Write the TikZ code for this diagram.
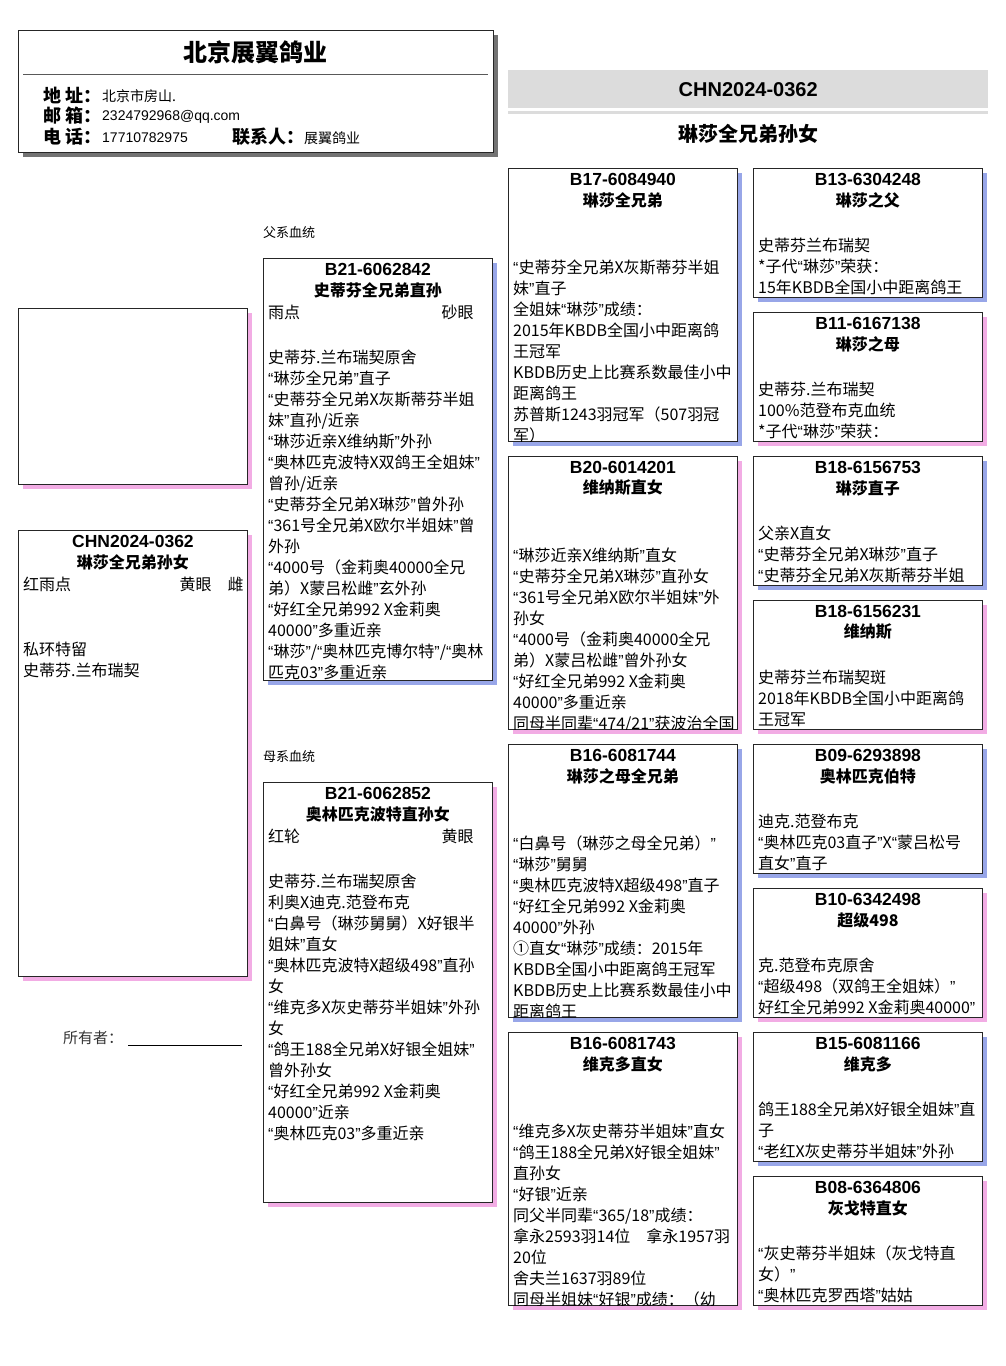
\documentclass[tikz,border=0pt]{standalone}
\usepackage{fontspec}
\setmainfont{Noto Sans CJK SC}
\newfontfamily\latin{Liberation Sans}
\usetikzlibrary{shadows}

% narrow quotes, as in the print
\catcode`“=\active \catcode`”=\active
\def“{{\latin\char"201C}}
\def”{{\latin\char"201D}}

\definecolor{pedblue}{RGB}{152,166,232}
\definecolor{pedpink}{RGB}{242,172,228}
\definecolor{titlegray}{RGB}{220,220,220}

\tikzset{
  card/.style={draw=black!85, line width=0.9pt, fill=white, anchor=north west,
    minimum width=229pt, inner sep=0pt},
  ringtxt/.style={font=\latin\bfseries\fontsize{17.5pt}{17.5pt}\selectfont, inner sep=0pt},
  pigeontxt/.style={font=\bfseries\fontsize{16pt}{16pt}\selectfont, inner sep=0pt},
  bodytxt/.style={font=\fontsize{16pt}{21pt}\selectfont, align=left, inner sep=0pt, anchor=north west},
  headlabel/.style={font=\bfseries\fontsize{18pt}{18pt}\selectfont, inner sep=0pt, anchor=west},
  headvalue/.style={font=\fontsize{14pt}{14pt}\selectfont, inner sep=0pt, anchor=west},
  linelabel/.style={font=\fontsize{13pt}{13pt}\selectfont, inner sep=0pt, anchor=west}
}

% #1 shadow colour, #2 name, #3 x, #4 y, #5 height, #6 ring, #7 pigeon, #8 body top, #9 body
\newcommand\pedcard[9][pedblue]{%
  \node[card, minimum height=#5pt,
    general shadow={fill=#1, shadow xshift=5pt, shadow yshift=-5pt}] (#2) at (#3,#4) {};
  \begin{scope}
    \clip (#2.north west) rectangle (#2.south east);
    \node[ringtxt] (#2-ring) at ([yshift=-11pt]#2.north) {#6};
    \node[pigeontxt] (#2-name) at ([yshift=-32pt]#2.north) {#7};
    \node[bodytxt] (#2-body) at ([xshift=5pt,yshift=-#8pt]#2.north west) {#9};
  \end{scope}}

\begin{document}
\begin{tikzpicture}[x=1pt,y=-1pt]
  \useasboundingbox (0,0) rectangle (1006,1366);

  % loft heading
  \node[card, minimum width=475pt, minimum height=122pt,
    general shadow={fill=black!55, shadow xshift=5pt, shadow yshift=-5pt}] (head) at (18,30) {};
  \node[font=\bfseries\fontsize{24pt}{24pt}\selectfont] (loft) at (255,52) {北京展翼鸽业};
  \draw[black!65, line width=1pt] ([xshift=5pt,yshift=-44pt]head.north west) -- ([xshift=-6pt,yshift=-44pt]head.north east);
  \node[headlabel] (addrlbl) at (43,95) {地 址：};
  \node[headvalue] (addr) at (102,96) {北京市房山.};
  \node[headlabel] (maillbl) at (43,116) {邮 箱：};
  \node[headvalue, font=\latin\fontsize{14pt}{14pt}\selectfont] (mail) at (102,117) {2324792968@qq.com};
  \node[headlabel] (tellbl) at (43,137) {电 话：};
  \node[headvalue, font=\latin\fontsize{14pt}{14pt}\selectfont] (tel) at (102,138) {17710782975};
  \node[headlabel] (contactlbl) at (232,137) {联系人：};
  \node[headvalue] (contact) at (304,138) {展翼鸽业};

  % bird title
  \node[fill=titlegray, anchor=north west, minimum width=480pt, minimum height=38pt, inner sep=0pt,
    font=\latin\bfseries\fontsize{20pt}{20pt}\selectfont] (ring) at (508,70) {CHN2024-0362};
  \draw[titlegray, line width=2.5pt] ([yshift=-4pt]ring.south west) -- ([yshift=-4pt]ring.south east);
  \node[font=\bfseries\fontsize{20pt}{20pt}\selectfont] (bird) at (748,134) {琳莎全兄弟孙女};

  % first column
  \node[card, minimum height=176pt,
    general shadow={fill=pedpink, shadow xshift=5pt, shadow yshift=-5pt}] (photo) at (18,308) {};
  \pedcard[pedpink]{main}{18}{530}{446}{CHN2024-0362}{琳莎全兄弟孙女}{112}{私环特留\\史蒂芬.兰布瑞契}
  \node[bodytxt, anchor=west] (main-col) at ([xshift=5pt,yshift=-54pt]main.north west) {红雨点};
  \node[bodytxt, anchor=east] (main-eye) at ([xshift=-4pt,yshift=-54pt]main.north east) {黄眼\hspace{16pt}雌};
  \node[font=\fontsize{15pt}{15pt}\selectfont, text=black!80, inner sep=0pt, anchor=west] (owner) at (63,1038) {所有者：};
  \draw[line width=0.8pt] ([xshift=5pt,yshift=-7pt]owner.east) -- ++(114,0);

  % sire and dam
  \node[linelabel] (sireline) at (263,233) {父系血统};
  \pedcard{s}{263}{258}{422}{B21-6062842}{史蒂芬全兄弟直孙}{92}{史蒂芬.兰布瑞契原舍\\“琳莎全兄弟”直子\\“史蒂芬全兄弟X灰斯蒂芬半姐\\妹”直孙/近亲\\“琳莎近亲X维纳斯”外孙\\“奥林匹克波特X双鸽王全姐妹”\\曾孙/近亲\\“史蒂芬全兄弟X琳莎”曾外孙\\“361号全兄弟X欧尔半姐妹”曾\\外孙\\“4000号（金莉奥40000全兄\\弟）X蒙吕松雌”玄外孙\\“好红全兄弟992 X金莉奥\\40000”多重近亲\\“琳莎”/“奥林匹克博尔特”/“奥林\\匹克03”多重近亲}
  \node[bodytxt, anchor=west] (s-col) at ([xshift=5pt,yshift=-54pt]s.north west) {雨点};
  \node[bodytxt, anchor=east] (s-eye) at ([xshift=-19pt,yshift=-54pt]s.north east) {砂眼};

  \node[linelabel] (damline) at (263,757) {母系血统};
  \pedcard[pedpink]{d}{263}{782}{420}{B21-6062852}{奥林匹克波特直孙女}{92}{史蒂芬.兰布瑞契原舍\\利奥X迪克.范登布克\\“白鼻号（琳莎舅舅）X好银半\\姐妹”直女\\“奥林匹克波特X超级498”直孙\\女\\“维克多X灰史蒂芬半姐妹”外孙\\女\\“鸽王188全兄弟X好银全姐妹”\\曾外孙女\\“好红全兄弟992 X金莉奥\\40000”近亲\\“奥林匹克03”多重近亲}
  \node[bodytxt, anchor=west] (d-col) at ([xshift=5pt,yshift=-54pt]d.north west) {红轮};
  \node[bodytxt, anchor=east] (d-eye) at ([xshift=-19pt,yshift=-54pt]d.north east) {黄眼};

  % grandparents
  \pedcard{ss}{508}{168}{273}{B17-6084940}{琳莎全兄弟}{92}{“史蒂芬全兄弟X灰斯蒂芬半姐\\妹”直子\\全姐妹“琳莎”成绩：\\2015年KBDB全国小中距离鸽\\王冠军\\KBDB历史上比赛系数最佳小中\\距离鸽王\\苏普斯1243羽冠军（507羽冠\\军）}
  \pedcard[pedpink]{sd}{508}{456}{273}{B20-6014201}{维纳斯直女}{92}{“琳莎近亲X维纳斯”直女\\“史蒂芬全兄弟X琳莎”直孙女\\“361号全兄弟X欧尔半姐妹”外\\孙女\\“4000号（金莉奥40000全兄\\弟）X蒙吕松雌”曾外孙女\\“好红全兄弟992 X金莉奥\\40000”多重近亲\\同母半同辈“474/21”获波治全国}
  \pedcard{ds}{508}{744}{273}{B16-6081744}{琳莎之母全兄弟}{92}{“白鼻号（琳莎之母全兄弟）”\\“琳莎”舅舅\\“奥林匹克波特X超级498”直子\\“好红全兄弟992 X金莉奥\\40000”外孙\\①直女“琳莎”成绩：2015年\\KBDB全国小中距离鸽王冠军\\KBDB历史上比赛系数最佳小中\\距离鸽王}
  \pedcard[pedpink]{dd}{508}{1032}{273}{B16-6081743}{维克多直女}{92}{“维克多X灰史蒂芬半姐妹”直女\\“鸽王188全兄弟X好银全姐妹”\\直孙女\\“好银”近亲\\同父半同辈“365/18”成绩：\\拿永2593羽14位　拿永1957羽\\20位\\舍夫兰1637羽89位\\同母半姐妹“好银”成绩：（幼}

  % great-grandparents
  \pedcard{sss}{753}{168}{129}{B13-6304248}{琳莎之父}{70}{史蒂芬兰布瑞契\\*子代“琳莎”荣获：\\15年KBDB全国小中距离鸽王}
  \pedcard[pedpink]{ssd}{753}{312}{129}{B11-6167138}{琳莎之母}{70}{史蒂芬.兰布瑞契\\100\%范登布克血统\\*子代“琳莎”荣获：}
  \pedcard{sds}{753}{456}{129}{B18-6156753}{琳莎直子}{70}{父亲X直女\\“史蒂芬全兄弟X琳莎”直子\\“史蒂芬全兄弟X灰斯蒂芬半姐}
  \pedcard[pedpink]{sdd}{753}{600}{129}{B18-6156231}{维纳斯}{70}{史蒂芬兰布瑞契斑\\2018年KBDB全国小中距离鸽\\王冠军}
  \pedcard{dss}{753}{744}{129}{B09-6293898}{奥林匹克伯特}{70}{迪克.范登布克\\“奥林匹克03直子”X“蒙吕松号\\直女”直子}
  \pedcard[pedpink]{dsd}{753}{888}{129}{B10-6342498}{超级498}{70}{克.范登布克原舍\\“超级498（双鸽王全姐妹）”\\好红全兄弟992 X金莉奥40000”}
  \pedcard{dds}{753}{1032}{129}{B15-6081166}{维克多}{70}{鸽王188全兄弟X好银全姐妹”直\\子\\“老红X灰史蒂芬半姐妹”外孙}
  \pedcard[pedpink]{ddd}{753}{1176}{129}{B08-6364806}{灰戈特直女}{70}{“灰史蒂芬半姐妹（灰戈特直\\女）”\\“奥林匹克罗西塔”姑姑}
\end{tikzpicture}
\end{document}
